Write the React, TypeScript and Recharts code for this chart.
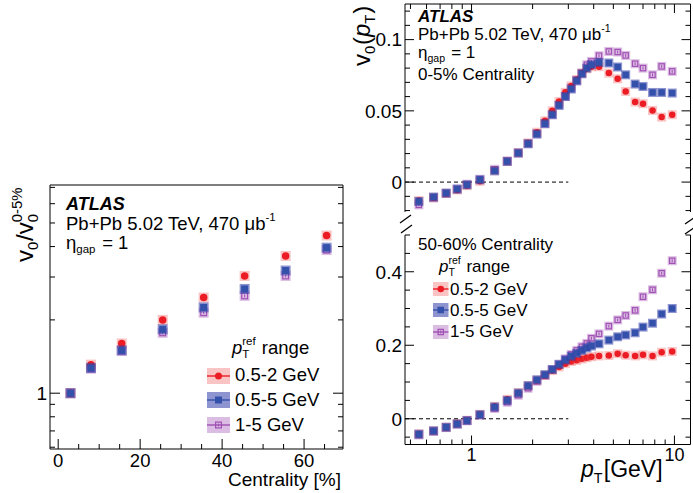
import React from 'react';
import { ScatterChart, Scatter, XAxis, YAxis, ReferenceLine } from 'recharts';

// ---- data ----
const centrality = [3, 8, 15.5, 25.5, 35.5, 45.5, 55.5, 65.5];
const ratioLow = [1.0, 1.31, 1.6, 2.0, 2.47, 3.03, 3.66, 4.44];
const ratioMid = [1.0, 1.27, 1.5, 1.83, 2.25, 2.68, 3.19, 3.96];
const ratioHigh = [1.0, 1.26, 1.49, 1.77, 2.14, 2.51, 3.03, 3.87];

const ptBins = [
  0.55, 0.65, 0.75, 0.85, 0.95, 1.1, 1.3, 1.5, 1.7, 1.9, 2.1, 2.3, 2.5, 2.7, 2.9,
  3.1, 3.3, 3.5, 3.7, 3.9, 4.25, 4.75, 5.25, 5.75, 6.4, 7.0, 7.8, 8.65, 9.75,
];

const centralLow = [
  -0.013, -0.011, -0.008, -0.0055, -0.0025, 0.0005, 0.008, 0.0145, 0.0205, 0.0275, 0.035, 0.043,
  0.05, 0.0565, 0.063, 0.0675, 0.072, 0.0765, 0.0795, 0.081, 0.081, 0.0765, 0.0725, 0.0636,
  0.0562, 0.055, 0.0503, 0.0456, 0.0473,
];
const centralMid = [
  -0.0136, -0.0105, -0.0077, -0.0049, -0.0019, 0.0016, 0.0079, 0.0145, 0.0204, 0.0269, 0.0337,
  0.041, 0.0473, 0.0538, 0.0601, 0.0653, 0.0711, 0.076, 0.08, 0.0824, 0.084, 0.0836, 0.0808,
  0.0753, 0.0688, 0.0671, 0.0629, 0.0629, 0.0625,
];
const centralHigh = [
  -0.016, -0.011, -0.008, -0.005, -0.0015, 0.002, 0.009, 0.0148, 0.0205, 0.027, 0.034, 0.041,
  0.0473, 0.0543, 0.0601, 0.066, 0.0711, 0.0765, 0.0824, 0.0847, 0.0887, 0.0917, 0.0913, 0.0889,
  0.0831, 0.08, 0.0753, 0.0812, 0.0777,
];

const periphLow = [
  -0.041, -0.033, -0.023, -0.013, -0.004, 0.012, 0.034, 0.053, 0.071, 0.09, 0.105, 0.118, 0.131,
  0.141, 0.15, 0.156, 0.159, 0.163, 0.166, 0.169, 0.171, 0.172, 0.177, 0.173, 0.171, 0.174,
  0.171, 0.181, 0.183,
];
const periphMid = [
  -0.042, -0.033, -0.023, -0.014, -0.005, 0.011, 0.032, 0.05, 0.07, 0.09, 0.106, 0.12, 0.134,
  0.148, 0.16, 0.17, 0.178, 0.186, 0.193, 0.198, 0.204, 0.214, 0.223, 0.228, 0.234, 0.2495, 0.26,
  0.285, 0.3,
];
const periphHigh = [
  -0.044, -0.034, -0.024, -0.015, -0.005, 0.01, 0.028, 0.045, 0.064, 0.083, 0.102, 0.118, 0.134,
  0.148, 0.163, 0.175, 0.186, 0.196, 0.205, 0.219, 0.231, 0.252, 0.269, 0.281, 0.295, 0.332,
  0.351, 0.396, 0.43,
];

// ticks
const centTicks = [0, 5, 10, 15, 20, 25, 30, 35, 40, 45, 50, 55, 60, 65];
const centMajor = [0, 20, 40, 60];
const ratioTicks = [0.6, 0.7, 0.8, 0.9, 1, 2, 3, 4, 5, 6, 7];
const ratioMajor = [1];
const ptTicks = [0.5, 0.6, 0.7, 0.8, 0.9, 1, 2, 3, 4, 5, 6, 7, 8, 9, 10];
const ptMajor = [1, 10];
const centralTicks = [-0.02, -0.01, 0, 0.01, 0.02, 0.03, 0.04, 0.05, 0.06, 0.07, 0.08, 0.09, 0.1, 0.11, 0.12];
const centralMajor = [0, 0.05, 0.1];
const periphTicks = [-0.05, 0, 0.05, 0.1, 0.15, 0.2, 0.25, 0.3, 0.35, 0.4, 0.45, 0.5];
const periphMajor = [0, 0.2, 0.4];

const CENT_DOMAIN = [-2, 69.5];
const RATIO_DOMAIN = [0.59, 7.16];
const PT_DOMAIN = [0.47, 12];
const CENTRAL_DOMAIN = [-0.021, 0.125];
const PERIPH_DOMAIN = [-0.07, 0.5];

// ---- style ----
const W = 693;
const H = 493;
const FONT = '"Liberation Sans", Arial, Helvetica, sans-serif';
const RED = '#ec1c24';
const BLUE = '#3350aa';
const PURPLE = '#a050b4';
const BOX: Record<string, string> = {
  circle: 'rgba(240, 70, 70, 0.32)',
  square: 'rgba(50, 60, 170, 0.55)',
  open: 'rgba(160, 80, 180, 0.38)',
};

type Kind = 'circle' | 'square' | 'open';

function toPoints(xs: number[], ys: number[]) {
  return xs.map((x, i) => ({ x, y: ys[i] }));
}

function Mark({ kind, cx, cy, size }: { kind: Kind; cx: number; cy: number; size: number }) {
  if (kind === 'circle') return <circle cx={cx} cy={cy} r={size / 2} fill={RED} />;
  if (kind === 'square')
    return <rect x={cx - size / 2} y={cy - size / 2} width={size} height={size} fill={BLUE} />;
  return (
    <g>
      <rect
        x={cx - size / 2 + 0.6}
        y={cy - size / 2 + 0.6}
        width={size - 1.2}
        height={size - 1.2}
        fill="none"
        stroke={PURPLE}
        strokeWidth={1.2}
      />
      <line x1={cx} x2={cx} y1={cy - 1.5} y2={cy + 1.5} stroke={PURPLE} strokeWidth={1} />
    </g>
  );
}

function markerShape(kind: Kind, box: number, size: number) {
  return (props: any) => {
    const { cx, cy } = props;
    if (cx == null || cy == null) return <g />;
    return (
      <g>
        <rect x={cx - box / 2} y={cy - box / 2} width={box} height={box} fill={BOX[kind]} />
        <Mark kind={kind} cx={cx} cy={cy} size={size} />
      </g>
    );
  };
}

function fmt(v: number) {
  return String(v);
}

// ticks pointing into the frame, labels only on the major ones.
// Axes are 1px thick, so the axis line sits 1px from the tick anchor.
function axisTick(
  side: 'left' | 'right' | 'top' | 'bottom',
  majors: number[],
  opts: { label?: boolean; fs?: number; major?: number; minor?: number; off?: number } = {}
) {
  const { label = false, fs = 19, major = 9, minor = 5, off = 16 } = opts;
  return (props: any) => {
    const { x, y, payload } = props;
    const v = payload.value;
    const isMajor = majors.includes(v);
    const len = isMajor ? major : minor;
    let line;
    let text = null;
    if (side === 'left') {
      line = <line x1={x} x2={x + len} y1={y} y2={y} stroke="#000" />;
      if (label && isMajor)
        text = (
          <text x={x - 3} y={y + fs * 0.36} textAnchor="end" fontSize={fs} fontFamily={FONT} fill="#000">
            {fmt(v)}
          </text>
        );
    } else if (side === 'right') {
      line = <line x1={x} x2={x - len} y1={y} y2={y} stroke="#000" />;
    } else if (side === 'top') {
      line = <line x1={x} x2={x} y1={y} y2={y + len} stroke="#000" />;
    } else {
      line = <line x1={x} x2={x} y1={y} y2={y - len} stroke="#000" />;
      if (label && isMajor)
        text = (
          <text x={x} y={y + off} textAnchor="middle" fontSize={fs} fontFamily={FONT} fill="#000">
            {fmt(v)}
          </text>
        );
    }
    return (
      <g>
        {line}
        {text}
      </g>
    );
  };
}

const AXIS = { stroke: '#000', strokeWidth: 1 };
const common = { tickSize: 0, tickMargin: 0, tickLine: false, axisLine: AXIS, interval: 0 as const };

function CentralityChart() {
  return (
    <ScatterChart width={W} height={H} margin={{ top: 184, left: 49, right: W - 343 - 1, bottom: H - 449 - 1 }}>
      <XAxis
        xAxisId="b"
        type="number"
        dataKey="x"
        domain={CENT_DOMAIN}
        allowDataOverflow
        ticks={centTicks}
        height={1}
        {...common}
        tick={axisTick('bottom', centMajor, { label: true, fs: 18.5, major: 10, minor: 5, off: 17.5 })}
      />
      <XAxis
        xAxisId="t"
        orientation="top"
        type="number"
        domain={CENT_DOMAIN}
        allowDataOverflow
        ticks={centTicks}
        height={1}
        {...common}
        tick={axisTick('top', centMajor, { major: 10, minor: 5 })}
      />
      <YAxis
        yAxisId="l"
        type="number"
        dataKey="y"
        scale="log"
        domain={RATIO_DOMAIN}
        allowDataOverflow
        ticks={ratioTicks}
        width={1}
        {...common}
        tick={axisTick('left', ratioMajor, { label: true, fs: 19, major: 10, minor: 5 })}
      />
      <YAxis
        yAxisId="r"
        orientation="right"
        type="number"
        scale="log"
        domain={RATIO_DOMAIN}
        allowDataOverflow
        ticks={ratioTicks}
        width={1}
        {...common}
        tick={axisTick('right', ratioMajor, { major: 10, minor: 5 })}
      />
      <Scatter xAxisId="b" yAxisId="l" data={toPoints(centrality, ratioHigh)} shape={markerShape('open', 10, 7)} isAnimationActive={false} />
      <Scatter xAxisId="b" yAxisId="l" data={toPoints(centrality, ratioLow)} shape={markerShape('circle', 10, 7.5)} isAnimationActive={false} />
      <Scatter xAxisId="b" yAxisId="l" data={toPoints(centrality, ratioMid)} shape={markerShape('square', 10, 7)} isAnimationActive={false} />
    </ScatterChart>
  );
}

function PtChart({
  top,
  bottom,
  domain,
  ticks,
  majors,
  low,
  mid,
  high,
  showBottom,
}: {
  top: number;
  bottom: number;
  domain: number[];
  ticks: number[];
  majors: number[];
  low: number[];
  mid: number[];
  high: number[];
  showBottom: boolean;
}) {
  return (
    <ScatterChart
      width={W}
      height={H}
      margin={{
        top: showBottom ? top : top - 1,
        left: 404,
        right: W - 690.5 - 1,
        bottom: showBottom ? H - bottom - 1 : H - bottom,
      }}
    >
      <XAxis
        xAxisId="x"
        orientation={showBottom ? 'bottom' : 'top'}
        type="number"
        dataKey="x"
        scale="log"
        domain={PT_DOMAIN}
        allowDataOverflow
        ticks={ptTicks}
        height={1}
        {...common}
        tick={
          showBottom
            ? axisTick('bottom', ptMajor, { label: true, fs: 18, major: 9, minor: 5, off: 16 })
            : axisTick('top', ptMajor, { major: 9, minor: 5 })
        }
      />
      <YAxis
        yAxisId="l"
        type="number"
        dataKey="y"
        domain={domain}
        allowDataOverflow
        ticks={ticks}
        width={1}
        {...common}
        tick={axisTick('left', majors, { label: true, fs: 19, major: 9, minor: 5 })}
      />
      <YAxis
        yAxisId="r"
        orientation="right"
        type="number"
        domain={domain}
        allowDataOverflow
        ticks={ticks}
        width={1}
        {...common}
        tick={axisTick('right', majors, { major: 9, minor: 5 })}
      />
      <ReferenceLine
        xAxisId="x"
        yAxisId="l"
        segment={[
          { x: PT_DOMAIN[0], y: 0 },
          { x: 3, y: 0 },
        ]}
        stroke="#000"
        strokeDasharray="4 3"
      />
      <Scatter xAxisId="x" yAxisId="l" data={toPoints(ptBins, high)} shape={markerShape('open', 9, 6.5)} isAnimationActive={false} />
      <Scatter xAxisId="x" yAxisId="l" data={toPoints(ptBins, low)} shape={markerShape('circle', 9, 6.5)} isAnimationActive={false} />
      <Scatter xAxisId="x" yAxisId="l" data={toPoints(ptBins, mid)} shape={markerShape('square', 9, 6.5)} isAnimationActive={false} />
    </ScatterChart>
  );
}

// ---- text helpers ----
function Txt({
  x,
  base,
  fs,
  children,
  style,
}: {
  x: number;
  base: number;
  fs: number;
  children: React.ReactNode;
  style?: React.CSSProperties;
}) {
  return (
    <div
      style={{
        position: 'absolute',
        left: x,
        top: base - 0.85 * fs,
        fontSize: fs,
        lineHeight: 1,
        whiteSpace: 'nowrap',
        ...style,
      }}
    >
      {children}
    </div>
  );
}

function Scripts({ sup, sub, fs, w }: { sup?: string; sub?: string; fs: number; w: number }) {
  return (
    <span style={{ display: 'inline-block', position: 'relative', width: w, height: 0, verticalAlign: 'baseline' }}>
      {sup && (
        <span style={{ position: 'absolute', left: 0, bottom: fs * 0.36, fontSize: fs * 0.62, lineHeight: 1 }}>{sup}</span>
      )}
      {sub && (
        <span style={{ position: 'absolute', left: 0, top: -fs * 0.28, fontSize: fs * 0.62, lineHeight: 1 }}>{sub}</span>
      )}
    </span>
  );
}

function Lumi({ fs }: { fs: number }) {
  return (
    <>
      Pb+Pb 5.02 TeV, 470 μb
      <Scripts sup="-1" fs={fs} w={fs * 0.55} />
    </>
  );
}

function Eta({ fs }: { fs: number }) {
  return (
    <>
      η<Scripts sub="gap" fs={fs} w={fs * 1.12} /> = 1
    </>
  );
}

function PtRef({ fs }: { fs: number }) {
  return (
    <>
      <i>p</i>
      <Scripts sup="ref" sub="T" fs={fs} w={fs * 0.78} /> range
    </>
  );
}

const legendEntries: { kind: Kind; label: string }[] = [
  { kind: 'circle', label: '0.5-2 GeV' },
  { kind: 'square', label: '0.5-5 GeV' },
  { kind: 'open', label: '1-5 GeV' },
];

function LegendRows({
  boxX,
  textX,
  centers,
  bw,
  bh,
  fs,
  size,
}: {
  boxX: number;
  textX: number;
  centers: number[];
  bw: number;
  bh: number;
  fs: number;
  size: number;
}) {
  return (
    <>
      {legendEntries.map((e, i) => {
        const color = e.kind === 'circle' ? RED : e.kind === 'square' ? BLUE : PURPLE;
        return (
          <React.Fragment key={e.label}>
            <svg
              width={bw}
              height={bh}
              style={{ position: 'absolute', left: boxX, top: centers[i] - bh / 2, overflow: 'visible' }}
            >
              <rect x={0} y={0} width={bw} height={bh} fill={BOX[e.kind]} />
              <line x1={0} x2={bw} y1={bh / 2} y2={bh / 2} stroke={color} strokeWidth={1.4} />
              <Mark kind={e.kind} cx={bw / 2} cy={bh / 2} size={size} />
            </svg>
            <Txt x={textX} base={centers[i] + 0.36 * fs} fs={fs}>
              {e.label}
            </Txt>
          </React.Fragment>
        );
      })}
    </>
  );
}

function Breaks() {
  const s = { stroke: '#000', strokeWidth: 1.2 };
  return (
    <svg width={W} height={H} style={{ position: 'absolute', left: 0, top: 0, pointerEvents: 'none' }}>
      <line x1={400} y1={223} x2={411} y2={215} {...s} />
      <line x1={401} y1={233} x2={412} y2={225} {...s} />
      <line x1={685} y1={224} x2={695} y2={217} {...s} />
      <line x1={685} y1={234} x2={695} y2={227} {...s} />
    </svg>
  );
}

export default function App() {
  return (
    <div
      style={{
        position: 'fixed',
        left: 0,
        top: 0,
        width: W,
        height: H,
        background: '#fff',
        fontFamily: FONT,
        color: '#000',
        overflow: 'hidden',
      }}
    >
      <div style={{ position: 'absolute', left: 0, top: 0 }}>
        <CentralityChart />
      </div>
      <div style={{ position: 'absolute', left: 0, top: 0 }}>
        <PtChart
          top={4}
          bottom={212}
          domain={CENTRAL_DOMAIN}
          ticks={centralTicks}
          majors={centralMajor}
          low={centralLow}
          mid={centralMid}
          high={centralHigh}
          showBottom={false}
        />
      </div>
      <div style={{ position: 'absolute', left: 0, top: 0 }}>
        <PtChart
          top={235}
          bottom={444.5}
          domain={PERIPH_DOMAIN}
          ticks={periphTicks}
          majors={periphMajor}
          low={periphLow}
          mid={periphMid}
          high={periphHigh}
          showBottom
        />
      </div>
      <Breaks />

      {/* left panel text */}
      <Txt x={66} base={210} fs={18} style={{ fontWeight: 'bold', fontStyle: 'italic' }}>
        ATLAS
      </Txt>
      <Txt x={66} base={231} fs={18.5}>
        <Lumi fs={18.5} />
      </Txt>
      <Txt x={66} base={250} fs={18.5}>
        <Eta fs={18.5} />
      </Txt>
      <Txt x={232} base={355} fs={18.5}>
        <PtRef fs={18.5} />
      </Txt>
      <LegendRows boxX={207} textX={235} centers={[375.5, 400, 425]} bw={23} bh={16} fs={18.5} size={7} />

      {/* left axis titles */}
      <div
        style={{
          position: 'absolute',
          left: 13,
          top: 262,
          fontSize: 24,
          lineHeight: 1,
          whiteSpace: 'nowrap',
          transform: 'rotate(-90deg)',
          transformOrigin: '0 0',
        }}
      >
        v<Scripts sub="0" fs={24} w={9} />/v<Scripts sub="0" sup="0-5%" fs={24} w={36} />
      </div>
      <Txt x={0} base={486.5} fs={19} style={{ left: 'auto', right: W - 341 }}>
        Centrality [%]
      </Txt>

      {/* top right text */}
      <Txt x={418} base={22.5} fs={17} style={{ fontWeight: 'bold', fontStyle: 'italic' }}>
        ATLAS
      </Txt>
      <Txt x={418} base={40.5} fs={17}>
        <Lumi fs={17} />
      </Txt>
      <Txt x={418} base={58} fs={17}>
        <Eta fs={17} />
      </Txt>
      <Txt x={418} base={80} fs={17}>
        0-5% Centrality
      </Txt>
      <div
        style={{
          position: 'absolute',
          left: 350,
          top: 66,
          fontSize: 24,
          lineHeight: 1,
          whiteSpace: 'nowrap',
          transform: 'rotate(-90deg)',
          transformOrigin: '0 0',
        }}
      >
        v<Scripts sub="0" fs={24} w={9} />(<i>p</i>
        <Scripts sub="T" fs={24} w={10} />)
      </div>

      {/* bottom right text */}
      <Txt x={418} base={250} fs={17}>
        50-60% Centrality
      </Txt>
      <Txt x={439} base={272} fs={17}>
        <PtRef fs={17} />
      </Txt>
      <LegendRows boxX={433} textX={450} centers={[289, 310, 331.5]} bw={15.5} bh={14} fs={17} size={6.5} />
      <Txt x={581} base={478} fs={23}>
        <i>p</i>
        <Scripts sub="T" fs={23} w={8} />
        <span style={{ marginLeft: 2 }}>[GeV]</span>
      </Txt>
    </div>
  );
}
